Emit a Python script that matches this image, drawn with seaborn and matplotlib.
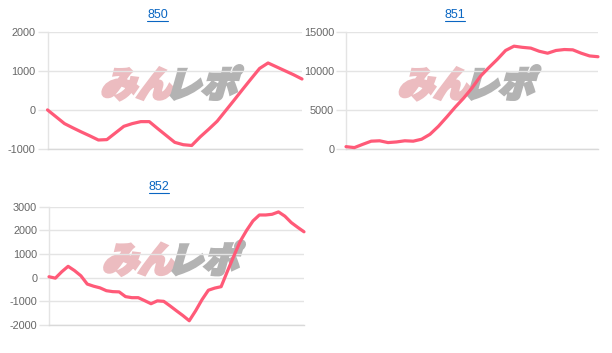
import numpy as np
import pandas as pd
import matplotlib
matplotlib.use("Agg")
import matplotlib.pyplot as plt
import seaborn as sns
from matplotlib.textpath import TextPath
from matplotlib.patches import PathPatch
from matplotlib.font_manager import FontProperties
from matplotlib.transforms import Affine2D
from matplotlib.lines import Line2D

# ---------------- data ----------------
titles = ["850", "851", "852"]

values_850 = [0, -175, -350, -460, -565, -665, -770, -760, -590, -420, -350, -300,
              -300, -480, -655, -830, -890, -910, -690, -495, -290, -20, 250, 525,
              795, 1060, 1200, 1100, 1000, 900, 790]

values_851 = [300, 180, 600, 1000, 1050, 820, 900, 1050, 1000, 1250, 1880, 2900,
              4100, 5350, 6500, 7800, 9300, 10400, 11450, 12600, 13150, 13000,
              12900, 12500, 12250, 12600, 12720, 12680, 12250, 11900, 11800]

values_852 = [40, -20, 250, 480, 300, 80, -270, -360, -430, -550, -590, -600, -800,
              -845, -845, -970, -1100, -980, -1000, -1195, -1400, -1600, -1820,
              -1400, -930, -530, -440, -380, 280, 920, 1540, 2000, 2400, 2650, 2650,
              2680, 2780, 2600, 2330, 2130, 1940]

yticks_850 = [-1000, 0, 1000, 2000]
yticks_851 = [0, 5000, 10000, 15000]
yticks_852 = [-2000, -1000, 0, 1000, 2000, 3000]

watermark_a = "みん"
watermark_b = "レポ"

# ---------------- style ----------------
sns.set_theme(style="white")
plt.rcParams["font.family"] = ["Liberation Sans", "DejaVu Sans"]

LINE = "#ff5a78"
GRID = "#e4e4e4"
TICK = "#666666"
TITLE = "#0a66c2"

W, H = 612, 353
fig = plt.figure(figsize=(W / 100, H / 100), dpi=100)
fig.patch.set_facecolor("white")

def px_rect(l, t, r, b):
    return [l / W, 1 - b / H, (r - l) / W, (b - t) / H]

panels = [
    dict(vals=values_850, ticks=yticks_850, rect=px_rect(47.5, 31.7, 302, 149), title=titles[0], tpos=(157.5, 15.5)),
    dict(vals=values_851, ticks=yticks_851, rect=px_rect(346, 31.7, 598, 149), title=titles[1], tpos=(455, 15.5)),
    dict(vals=values_852, ticks=yticks_852, rect=px_rect(49, 206.7, 304, 325), title=titles[2], tpos=(159, 187)),
]

wm_font = FontProperties(family="Noto Sans CJK JP", weight="black")

axes = []
title_texts = []
for p in panels:
    ax = fig.add_axes(p["rect"])
    axes.append(ax)
    df = pd.DataFrame({"idx": np.arange(len(p["vals"])), "value": p["vals"]})
    sns.lineplot(data=df, x="idx", y="value", ax=ax, color=LINE, linewidth=2.3,
                 zorder=5, clip_on=False, solid_capstyle="round", solid_joinstyle="round")
    ax.set_xlim(0, len(p["vals"]) - 1)
    ax.set_ylim(p["ticks"][0], p["ticks"][-1])
    ax.set_yticks(p["ticks"])
    ax.set_yticklabels([str(t) for t in p["ticks"]])
    ax.set_xticks([])
    ax.set_xlabel("")
    ax.set_ylabel("")
    ax.grid(axis="y", color=GRID, linewidth=1)
    ax.set_axisbelow(True)
    for s in ["top", "right"]:
        ax.spines[s].set_visible(False)
    ax.spines["left"].set_color(GRID)
    ax.spines["left"].set_linewidth(1)
    ax.spines["bottom"].set_color("#d9d9d9")
    ax.spines["bottom"].set_linewidth(1)
    ax.tick_params(axis="y", length=7, width=1, color=GRID, pad=1.5,
                   labelsize=7.8, labelcolor=TICK, left=True)
    ax.set_facecolor("none")
    t = fig.text(p["tpos"][0] / W, 1 - p["tpos"][1] / H, p["title"], ha="center", va="center",
                 fontsize=9, color=TITLE)
    title_texts.append(t)

fig.canvas.draw()
renderer = fig.canvas.get_renderer()

# watermark (skewed text paths in display pixels)
for ax in axes:
    cx, cy = ax.transAxes.transform((0.49, 0.565))
    size = 36
    pa = TextPath((0, 0), watermark_a, prop=wm_font, size=size)
    pb = TextPath((0, 0), watermark_b, prop=wm_font, size=size)
    ea = pa.get_extents()
    eb = pb.get_extents()
    gap = 0
    total_w = ea.width + gap + eb.width
    h = max(ea.y1, eb.y1) - min(ea.y0, eb.y0)
    y0 = min(ea.y0, eb.y0)
    x_start = cx - total_w / 2 - ea.x0
    ta = Affine2D().translate(0, -y0 - h / 2).skew_deg(16, 0).translate(x_start, cy)
    tb = Affine2D().translate(0, -y0 - h / 2).skew_deg(16, 0).translate(x_start + ea.x1 + gap - eb.x0, cy)
    fig.add_artist(PathPatch(pa, transform=ta, facecolor="#ecbcc0", edgecolor="#ecbcc0",
                             linewidth=2.2, joinstyle="miter", zorder=1))
    fig.add_artist(PathPatch(pb, transform=tb, facecolor="#b3b3b3", edgecolor="#b3b3b3",
                             linewidth=2.2, joinstyle="miter", zorder=1))

for ax in axes:
    ax.set_zorder(2)

# underline titles
for t in title_texts:
    bb = t.get_window_extent(renderer)
    y = bb.y0 + 0.5
    fig.add_artist(Line2D([bb.x0 / W, bb.x1 / W], [y / H, y / H], transform=fig.transFigure,
                          color=TITLE, linewidth=0.8))

fig.savefig("out.png", dpi=100, facecolor="white")
